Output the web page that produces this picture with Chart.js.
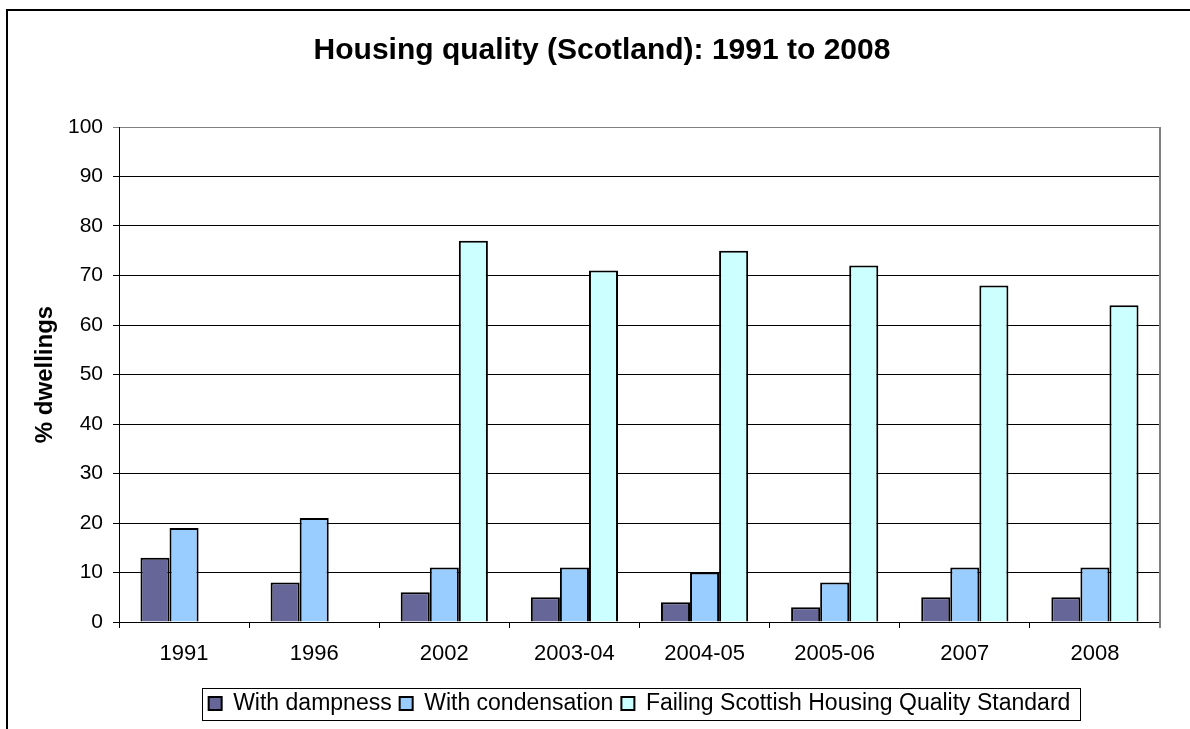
<!DOCTYPE html>
<html>
<head>
    <meta charset="UTF-8">
    <title>Housing quality (Scotland): 1991 to 2008</title>
    <script src="https://cdn.jsdelivr.net/npm/chart.js"></script>
    <style>
        body { margin: 0; background: #fff; }
        canvas { display: block; }
    </style>
</head>
<body>
    <canvas id="housingChart" width="1190" height="729"></canvas>

    <script type="text/javascript">
        // survey periods on the x axis
        const categories = ['1991', '1996', '2002', '2003-04', '2004-05', '2005-06', '2007', '2008'];

        // % of dwellings, per series
        const dampness = [13, 8, 6, 5, 4, 3, 5, 5];
        const condensation = [19, 21, 11, 11, 10, 8, 11, 11];
        const failingSHQS = [null, null, 77, 71, 75, 72, 68, 64];

        const yMin = 0;
        const yMax = 100;
        const yStep = 10;

        const FONT = "'Liberation Sans', Arial, sans-serif";

        // outer frame, plot border and a box round the legend
        const frames = {
            id: 'frames',
            afterLayout(chart) {
                // title sits over the page centre, legend over the plot area
                const title = chart.titleBlock;
                title.left += 18;
                title.right += 18;
                const legend = chart.legend;
                const area = chart.chartArea;
                legend.left = area.left;
                legend.right = area.right;
                legend.width = area.right - area.left;
            },
            beforeDraw(chart) {
                const ctx = chart.ctx;
                ctx.save();
                ctx.fillStyle = '#fff';
                ctx.fillRect(0, 0, chart.width, chart.height);
                ctx.strokeStyle = '#000';
                ctx.lineWidth = 2;
                ctx.strokeRect(7, 10, chart.width + 20, chart.height + 20);
                ctx.restore();
            },
            afterDraw(chart) {
                const ctx = chart.ctx;
                const area = chart.chartArea;
                ctx.save();
                ctx.strokeStyle = '#808080';
                ctx.lineWidth = 2;
                ctx.beginPath();
                ctx.moveTo(area.right, area.top);
                ctx.lineTo(area.right, area.bottom + 6);
                ctx.stroke();

                const boxes = chart.legend.legendHitBoxes;
                if (boxes && boxes.length) {
                    const left = Math.min(...boxes.map(b => b.left)) - 7;
                    const right = Math.max(...boxes.map(b => b.left + b.width)) + 9;
                    const top = boxes[0].top - 4;
                    const bottom = boxes[0].top + boxes[0].height + 5;
                    ctx.strokeStyle = '#000';
                    ctx.lineWidth = 1;
                    ctx.strokeRect(Math.round(left) + 0.5, Math.round(top) + 0.5,
                        Math.round(right - left), Math.round(bottom - top));
                }
                ctx.restore();
            }
        };

        function createChart() {
            const ctx = document.getElementById('housingChart').getContext('2d');

            new Chart(ctx, {
                type: 'bar',
                data: {
                    labels: categories,
                    datasets: [
                        { label: 'With dampness', data: dampness, backgroundColor: '#666699' },
                        { label: 'With condensation', data: condensation, backgroundColor: '#99CCFF' },
                        { label: 'Failing Scottish Housing Quality Standard', data: failingSHQS, backgroundColor: '#CCFFFF' }
                    ]
                },
                options: {
                    responsive: false,
                    animation: false,
                    devicePixelRatio: 1,
                    layout: {
                        padding: { left: 8, right: 30, top: 0, bottom: 4 }
                    },
                    datasets: {
                        bar: {
                            borderColor: '#000',
                            borderWidth: 2,
                            categoryPercentage: 0.67,
                            barPercentage: 1
                        }
                    },
                    plugins: {
                        title: {
                            display: true,
                            text: 'Housing quality (Scotland): 1991 to 2008',
                            color: '#000',
                            font: { family: FONT, size: 30, weight: 'bold' },
                            padding: { top: 33, bottom: 58 }
                        },
                        legend: {
                            position: 'bottom',
                            labels: {
                                color: '#000',
                                font: { family: FONT, size: 23 },
                                boxWidth: 13,
                                boxHeight: 13,
                                padding: 8
                            }
                        },
                        tooltip: { enabled: false }
                    },
                    scales: {
                        x: {
                            grid: {
                                drawOnChartArea: false,
                                tickLength: 6,
                                color: '#000'
                            },
                            border: { color: '#000', width: 1 },
                            ticks: {
                                color: '#000',
                                font: { family: FONT, size: 22 },
                                padding: 13
                            },
                            afterFit(scale) { scale.height = 62; }
                        },
                        y: {
                            min: yMin,
                            max: yMax,
                            grid: {
                                tickLength: 6,
                                color: ctx => ctx.tick && ctx.tick.value === yMax ? '#808080' : '#000'
                            },
                            border: { color: '#000', width: 1 },
                            ticks: {
                                stepSize: yStep,
                                color: '#000',
                                font: { family: FONT, size: 21 },
                                padding: 10
                            },
                            title: {
                                display: true,
                                text: '% dwellings',
                                color: '#000',
                                font: { family: FONT, size: 24, weight: 'bold' },
                                padding: { top: 23, bottom: 0 }
                            },
                            afterFit(scale) { scale.width = 111; }
                        }
                    }
                },
                plugins: [frames]
            });
        }

        window.onload = createChart;
    </script>
</body>
</html>
